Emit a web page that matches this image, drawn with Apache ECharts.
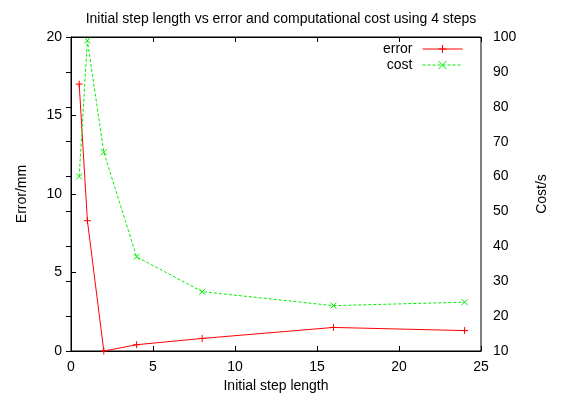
<!DOCTYPE html>
<html><head><meta charset="utf-8">
<script src="https://cdn.jsdelivr.net/npm/echarts@6/dist/echarts.min.js"></script>
<style>html,body{margin:0;padding:0;background:#fff}#c{width:562px;height:400px}</style>
</head><body><div id="c"></div>
<script>
const stepLengths = [0.5, 1, 2, 4, 8, 16, 24];
const errorValues = [17.0, 8.3, 0.0, 0.4, 0.8, 1.5, 1.3];
const costValues = [60, 99, 67, 37, 27, 23, 24];
const xTicks = [0, 5, 10, 15, 20, 25];
const errorTicks = [0, 5, 10, 15, 20];
const costTicks = [10, 20, 30, 40, 50, 60, 70, 80, 90, 100];

const font = 'Liberation Sans, Arial, sans-serif';
const fs = 14;
const plus = 'path://M0,5L10,5M5,0L5,10';
const cross = 'path://M0,0L10,10M10,0L0,10';
const chart = echarts.init(document.getElementById('c'));
const axisLbl = {color: '#000', fontFamily: font, fontSize: fs};
const nameStyle = {fontFamily: font, fontSize: fs, color: '#000'};
chart.setOption({
  animation: false,
  title: {text: 'Initial step length vs error and computational cost using 4 steps', left: 276, textAlign: 'center', top: 7,
    textStyle: {fontFamily: font, fontSize: fs, fontWeight: 'normal', color: '#000'}},
  grid: {left: 71, right: 81, top: 37, bottom: 49, show: true, borderColor: '#000', borderWidth: 1},
  legend: {
    top: 42, right: 99, orient: 'vertical', align: 'right', itemWidth: 40, itemHeight: 10, itemGap: 2, padding: 0,
    textStyle: {fontFamily: font, fontSize: fs, color: '#000', padding: [0, 5, 0, 0]},
    lineStyle: {width: 1},
    data: [
      {name: 'error', itemStyle: {borderWidth: 1}},
      {name: 'cost', itemStyle: {borderWidth: 1}}
    ]
  },
  xAxis: [{
    type: 'value', min: xTicks[0], max: xTicks[xTicks.length - 1], interval: 5,
    name: 'Initial step length', nameLocation: 'middle', nameGap: 28, nameTextStyle: nameStyle,
    axisLine: {lineStyle: {color: '#000'}}, axisTick: {inside: true, length: 5, lineStyle: {color: '#000'}},
    axisLabel: Object.assign({margin: 9}, axisLbl), splitLine: {show: false}
  }, {
    type: 'value', position: 'top', min: xTicks[0], max: xTicks[xTicks.length - 1], interval: 5,
    axisLine: {lineStyle: {color: '#000'}}, axisTick: {inside: true, length: 5, lineStyle: {color: '#000'}},
    axisLabel: {show: false}, splitLine: {show: false}
  }],
  yAxis: [{
    type: 'value', min: errorTicks[0], max: errorTicks[errorTicks.length - 1], interval: 5,
    name: 'Error/mm', nameLocation: 'middle', nameGap: 42, nameRotate: 90, nameTextStyle: nameStyle,
    axisLine: {lineStyle: {color: '#000'}}, axisTick: {inside: true, length: 5, lineStyle: {color: '#000'}},
    axisLabel: Object.assign({margin: 9}, axisLbl), splitLine: {show: false}
  }, {
    type: 'value', position: 'right', min: costTicks[0], max: costTicks[costTicks.length - 1], interval: 10,
    name: 'Cost/s', nameLocation: 'middle', nameGap: 54, nameRotate: 90, nameTextStyle: nameStyle,
    axisLine: {lineStyle: {color: '#000'}}, axisTick: {inside: true, length: 5, lineStyle: {color: '#000'}},
    axisLabel: Object.assign({margin: 12}, axisLbl), splitLine: {show: false}
  }],
  series: [{
    name: 'error', type: 'line', xAxisIndex: 0, yAxisIndex: 0,
    data: stepLengths.map((x, i) => [x, errorValues[i]]),
    symbol: plus, symbolSize: 7, showSymbol: true,
    lineStyle: {color: '#ff0000', width: 1},
    itemStyle: {color: '#ff0000', borderColor: '#ff0000', borderWidth: 1}
  }, {
    name: 'cost', type: 'line', xAxisIndex: 0, yAxisIndex: 1,
    data: stepLengths.map((x, i) => [x, costValues[i]]),
    symbol: cross, symbolSize: 6, showSymbol: true,
    lineStyle: {color: '#00ee00', width: 1, type: [3, 2]},
    itemStyle: {color: '#00ee00', borderColor: '#00ee00', borderWidth: 1}
  }]
});
</script></body></html>
